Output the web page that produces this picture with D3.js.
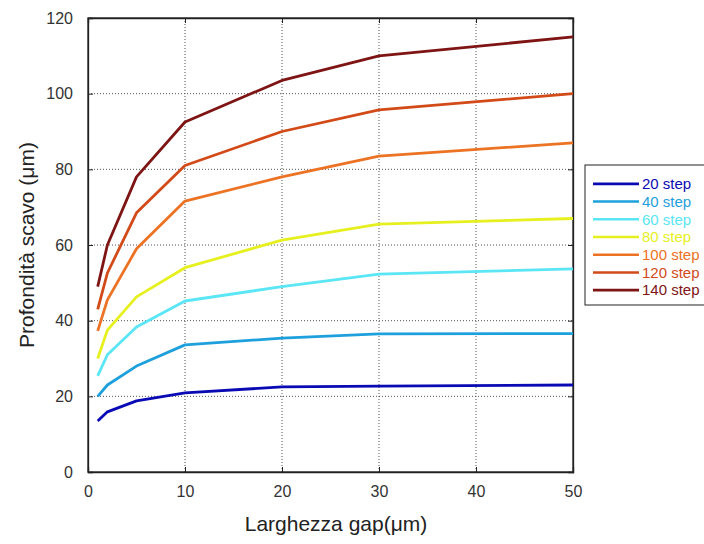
<!DOCTYPE html>
<html>
<head>
<meta charset="utf-8">
<script src="https://cdn.jsdelivr.net/npm/d3@7"></script>
<style>
  body { margin: 0; background: #fff; }
  svg text { font-family: Arial, "Liberation Sans", sans-serif; }
</style>
</head>
<body>
<div id="chart"></div>
<script>
// dati
const gapX = [1, 2, 5, 10, 20, 30, 50];
const stepLabels = ["20 step", "40 step", "60 step", "80 step", "100 step", "120 step", "140 step"];
const step20 = [13.5, 15.9, 18.8, 20.9, 22.5, 22.7, 23];
const step40 = [20, 23, 28, 33.6, 35.4, 36.5, 36.6];
const step60 = [25.4, 31, 38.3, 45.2, 49, 52.3, 53.7];
const step80 = [30, 37.5, 46.3, 54, 61.3, 65.5, 67];
const step100 = [37.3, 45.5, 59, 71.6, 78, 83.5, 87];
const step120 = [43, 52.6, 68.5, 81, 90, 95.7, 100];
const step140 = [49, 60, 78, 92.5, 103.5, 110, 115];
const xTicks = [0, 10, 20, 30, 40, 50];
const yTicks = [0, 20, 40, 60, 80, 100, 120];
const colors = ["#0a0ab4", "#1ea0dc", "#5ae6f5", "#e6f01e", "#ec7224", "#d24a18", "#7e1414"];

const series = [step20, step40, step60, step80, step100, step120, step140];

var width = 704;
var height = 544;
var pLeft = 88, pRight = 573, pTop = 18, pBottom = 472;

const svg = d3.select("#chart")
    .append("svg")
    .attr("width", width)
    .attr("height", height);

const x = d3.scaleLinear().domain([0, 50]).range([pLeft, pRight]);
const y = d3.scaleLinear().domain([0, 120]).range([pBottom, pTop]);

// griglia tratteggiata
svg.append("g")
    .selectAll("line")
    .data(xTicks.slice(1, -1))
    .enter().append("line")
    .attr("x1", d => x(d)).attr("x2", d => x(d))
    .attr("y1", pTop).attr("y2", pBottom)
    .attr("stroke", "#555").attr("stroke-width", 1)
    .attr("stroke-dasharray", "1,2");
svg.append("g")
    .selectAll("line")
    .data(yTicks.slice(1, -1))
    .enter().append("line")
    .attr("x1", pLeft).attr("x2", pRight)
    .attr("y1", d => y(d)).attr("y2", d => y(d))
    .attr("stroke", "#555").attr("stroke-width", 1)
    .attr("stroke-dasharray", "1,2");

// assi con tacche interne
const xAxis = d3.axisBottom(x).tickValues(xTicks).tickSize(-5).tickPadding(14);
const yAxis = d3.axisLeft(y).tickValues(yTicks).tickSize(-5).tickPadding(15);

const gx = svg.append("g").attr("transform", `translate(0,${pBottom})`).call(xAxis);
const gy = svg.append("g").attr("transform", `translate(${pLeft},0)`).call(yAxis);
svg.append("g").attr("transform", `translate(0,${pTop})`)
    .call(d3.axisTop(x).tickValues(xTicks).tickSize(-5).tickFormat(""));
svg.append("g").attr("transform", `translate(${pRight},0)`)
    .call(d3.axisRight(y).tickValues(yTicks).tickSize(-5).tickFormat(""));

svg.selectAll(".domain").attr("stroke", "#222").attr("stroke-width", 1.3);
svg.selectAll(".tick line").attr("stroke", "#222");
[gx, gy].forEach(g => g.selectAll("text")
    .style("font-size", "16px")
    .attr("fill", "#333"));

svg.append("rect")
    .attr("x", pLeft).attr("y", pTop)
    .attr("width", pRight - pLeft).attr("height", pBottom - pTop)
    .attr("fill", "none").attr("stroke", "#222").attr("stroke-width", 1.3);

// curve
const line = d3.line()
    .x((d, i) => x(gapX[i]))
    .y(d => y(d));

svg.append("g")
    .selectAll("path")
    .data(series)
    .enter().append("path")
    .attr("d", d => line(d))
    .attr("fill", "none")
    .attr("stroke", (d, i) => colors[i])
    .attr("stroke-width", 2.8)
    .attr("stroke-linejoin", "round");

// titoli assi
svg.append("text")
    .attr("x", 336).attr("y", 531)
    .attr("text-anchor", "middle")
    .style("font-size", "21px")
    .attr("fill", "#222")
    .text("Larghezza gap(μm)");

svg.append("text")
    .attr("transform", `translate(34,${(pTop + pBottom) / 2}) rotate(-90)`)
    .attr("text-anchor", "middle")
    .style("font-size", "21px")
    .attr("fill", "#222")
    .text("Profondità scavo (μm)");

// legenda
const lg = svg.append("g").attr("transform", "translate(585,165)");
lg.append("rect")
    .attr("width", 125).attr("height", 140)
    .attr("fill", "#fff").attr("stroke", "#222").attr("stroke-width", 1);

const row = d3.scaleBand().domain(stepLabels).range([10, 134]);

const items = lg.selectAll(".item")
    .data(stepLabels)
    .enter().append("g")
    .attr("transform", d => `translate(0,${row(d) + row.bandwidth() / 2})`);
items.append("line")
    .attr("x1", 8).attr("x2", 54)
    .attr("stroke", (d, i) => colors[i]).attr("stroke-width", 2.6);
items.append("text")
    .attr("x", 57).attr("dy", "0.35em")
    .style("font-size", "15px")
    .attr("fill", (d, i) => colors[i])
    .text(d => d);
</script>
</body>
</html>
